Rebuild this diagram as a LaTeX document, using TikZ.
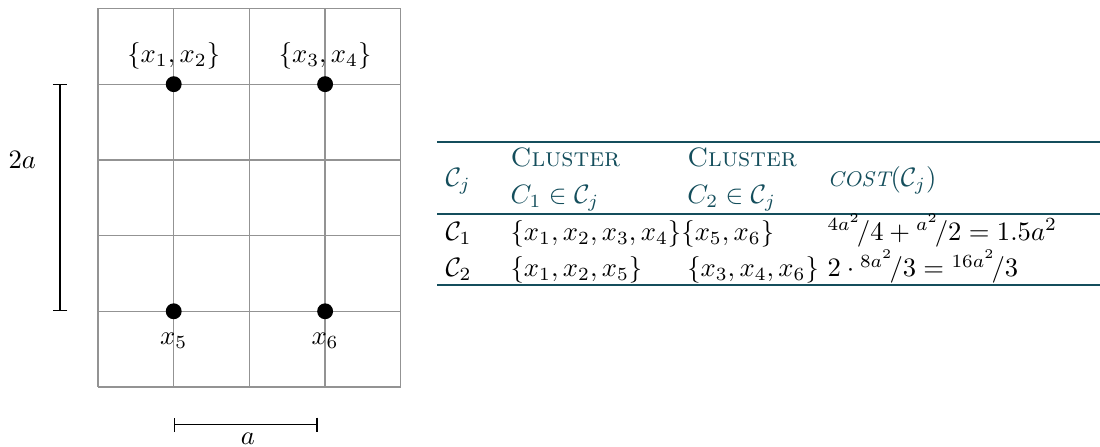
\documentclass[tikz,border=0pt]{standalone}
\usepackage{amsmath}
\usetikzlibrary{arrows.meta}
\definecolor{tealc}{RGB}{20,78,92}
\begin{document}
\begin{tikzpicture}[
  gridline/.style={draw=gray!85, line width=0.5pt},
  ptdot/.style={circle, fill=black, inner sep=0pt, minimum size=0.21cm},
  lbl/.style={anchor=base, inner sep=0pt},
  cell/.style={anchor=base west, inner sep=0pt},
  hcell/.style={cell, text=tealc},
  dimbar/.style={{Bar[width=5.4pt]}-{Bar[width=5.4pt]}, line width=0.5pt},
  heavyrule/.style={draw=tealc, line width=1.1pt},
  lightrule/.style={draw=tealc, line width=0.7pt}
]
\useasboundingbox (-1.2946,-0.7926) rectangle (13.236,5.112);
% grid
\draw[gridline] (0,0) grid (4,5);
% points
\node[ptdot] (p1) at (1,4) {};
\node[ptdot] (p2) at (3,4) {};
\node[ptdot] (p5) at (1,1) {};
\node[ptdot] (p6) at (3,1) {};
\node[lbl] (l12) at (1,4.28) {$\{x_1,x_2\}$};
\node[lbl] (l34) at (3,4.28) {$\{x_3,x_4\}$};
\node[lbl] (l5) at (1,0.555) {$x_5$};
\node[lbl] (l6) at (3,0.555) {$x_6$};
% dimension bars
\coordinate (vt) at (-0.5,4);
\coordinate (vb) at (-0.5,1);
\draw[dimbar] (vt) -- (vb);
\node[lbl] (l2a) at (-1.0,2.89) {$2a$};
\coordinate (hl) at (1,-0.5);
\coordinate (hr) at (2.9,-0.5);
\draw[dimbar] (hl) -- (hr);
\node[lbl] (la) at (1.98,-0.755) {$a$};
% table rules
\coordinate (r1l) at (4.478,3.236); \coordinate (r1r) at (13.236,3.236);
\coordinate (r2l) at (4.478,2.285); \coordinate (r2r) at (13.236,2.285);
\coordinate (r3l) at (4.478,1.347); \coordinate (r3r) at (13.236,1.347);
\draw[heavyrule] (r1l) -- (r1r);
\draw[lightrule] (r2l) -- (r2r);
\draw[heavyrule] (r3l) -- (r3r);
% header
\node[hcell] (hcj) at (4.584,2.646) {$\mathcal{C}_j$};
\node[hcell] (hc1a) at (5.443,2.91) {\textsc{Cluster}};
\node[hcell] (hc1b) at (5.443,2.425) {$C_1\in\mathcal{C}_j$};
\node[hcell] (hc2a) at (7.777,2.91) {\textsc{Cluster}};
\node[hcell] (hc2b) at (7.777,2.425) {$C_2\in\mathcal{C}_j$};
\node[hcell] (hcost) at (9.63,2.646) {{\fontsize{8}{9}\selectfont\itshape COST}$(\mathcal{C}_j)$};
% row 1
\node[cell] (a1) at (4.584,1.94) {$\mathcal{C}_1$};
\node[cell] (b1) at (5.443,1.94) {$\{x_1,x_2,x_3,x_4\}$};
\node[cell] (c1) at (7.70,1.94) {$\{x_5,x_6\}$};
\node[cell] (d1) at (9.63,1.94) {$^{4a^2}\!/4+{}^{a^2}\!/2=1.5a^2$};
% row 2
\node[cell] (a2) at (4.584,1.457) {$\mathcal{C}_2$};
\node[cell] (b2) at (5.443,1.457) {$\{x_1,x_2,x_5\}$};
\node[cell] (c2) at (7.777,1.457) {$\{x_3,x_4,x_6\}$};
\node[cell] (d2) at (9.63,1.457) {$2\cdot{}^{8a^2}\!/3={}^{16a^2}\!/3$};
\end{tikzpicture}
\end{document}
